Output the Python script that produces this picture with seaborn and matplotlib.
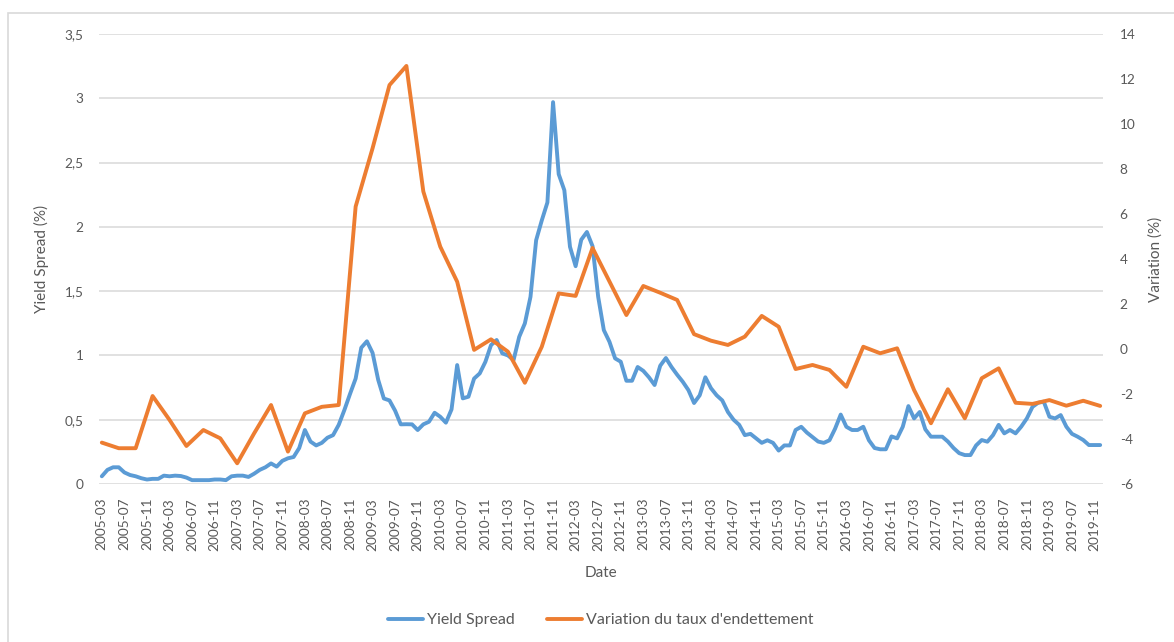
import numpy as np
import pandas as pd
import matplotlib
matplotlib.use("Agg")
import matplotlib.pyplot as plt
from matplotlib.patches import Rectangle
from matplotlib.ticker import FuncFormatter, FixedLocator
import seaborn as sns

# Monthly yield spread (%), 2005-03 .. 2019-12
yield_spread = [
    0.06, 0.11, 0.13, 0.13, 0.09, 0.07, 0.06, 0.045, 0.035, 0.04,          # 2005
    0.04, 0.065, 0.06, 0.065, 0.062, 0.05, 0.03, 0.03, 0.03, 0.03,         # 2006
    0.035, 0.035,
    0.03, 0.06, 0.065, 0.065, 0.055, 0.08, 0.11, 0.13, 0.16, 0.135,        # 2007
    0.18, 0.20,
    0.21, 0.28, 0.42, 0.33, 0.30, 0.32, 0.36, 0.38, 0.46, 0.575,           # 2008
    0.70, 0.82,
    1.06, 1.11, 1.02, 0.81, 0.665, 0.65, 0.57, 0.464, 0.465, 0.464,        # 2009
    0.42, 0.464,
    0.484, 0.554, 0.523, 0.477, 0.58, 0.925, 0.666, 0.679, 0.82, 0.86,     # 2010
    0.95, 1.08,
    1.12, 1.016, 1.0, 0.964, 1.145, 1.249, 1.456, 1.896, 2.05, 2.19,       # 2011
    2.97, 2.41,
    2.285, 1.845, 1.694, 1.90, 1.96, 1.85, 1.456, 1.197, 1.106, 0.977,     # 2012
    0.951, 0.803,
    0.803, 0.91, 0.88, 0.83, 0.77, 0.92, 0.98, 0.91, 0.85, 0.795,          # 2013
    0.73, 0.63,
    0.69, 0.83, 0.745, 0.69, 0.65, 0.56, 0.50, 0.46, 0.38, 0.39,           # 2014
    0.355, 0.32,
    0.34, 0.32, 0.26, 0.30, 0.30, 0.42, 0.445, 0.40, 0.365, 0.33,          # 2015
    0.32, 0.34,
    0.43, 0.54, 0.445, 0.42, 0.42, 0.445, 0.34, 0.28, 0.27, 0.27,          # 2016
    0.37, 0.355,
    0.445, 0.606, 0.51, 0.56, 0.425, 0.368, 0.368, 0.368, 0.33, 0.28,      # 2017
    0.24, 0.225,
    0.225, 0.30, 0.342, 0.329, 0.38, 0.46, 0.394, 0.42, 0.394, 0.446,      # 2018
    0.51, 0.60,
    0.632, 0.64, 0.523, 0.51, 0.536, 0.446, 0.39, 0.368, 0.342, 0.303,     # 2019
    0.303, 0.303,
]

# Quarterly change in the debt ratio (%), 2005-Q1 .. 2019-Q4
debt_ratio_change = [
    -4.16, -4.41, -4.41, -2.09,
    -3.15, -4.31, -3.60, -3.97,
    -5.08, -3.75, -2.49, -4.56,
    -2.86, -2.57, -2.49, 6.33,
    8.92, 11.73, 12.58, 7.00,
    4.55, 2.99, -0.04, 0.43,
    -0.12, -1.50, 0.10, 2.47,
    2.36, 4.49, 3.00, 1.51,
    2.80, 2.50, 2.18, 0.66,
    0.37, 0.18, 0.55, 1.47,
    0.99, -0.89, -0.71, -0.93,
    -1.68, 0.10, -0.19, 0.03,
    -1.82, -3.30, -1.79, -3.08,
    -1.30, -0.86, -2.39, -2.44,
    -2.27, -2.52, -2.30, -2.53,
]

months = pd.period_range("2005-03", periods=len(yield_spread), freq="M").strftime("%Y-%m").tolist()
quarter_months = months[::3]

spread_df = pd.DataFrame({"pos": np.arange(len(months)), "date": months, "value": yield_spread})
debt_df = pd.DataFrame({"pos": np.arange(0, len(months), 3), "date": quarter_months,
                        "value": debt_ratio_change})

BLUE = "#5B9BD5"
ORANGE = "#ED7D31"
TEXT = "#595959"
GRID = "#D9D9D9"

sns.set_theme(style="white")
plt.rcParams["font.family"] = ["Lato", "DejaVu Sans"]

fig = plt.figure(figsize=(11.74, 6.42), dpi=100)
ax = fig.add_axes([99 / 1174, 1 - 484 / 642, (1103 - 99) / 1174, (484 - 34) / 642])
ax2 = ax.twinx()

sns.lineplot(data=spread_df, x="pos", y="value", ax=ax, color=BLUE, linewidth=2.8,
             label="Yield Spread", legend=False)
sns.lineplot(data=debt_df, x="pos", y="value", ax=ax2, color=ORANGE, linewidth=2.8,
             label="Variation du taux d'endettement", legend=False)

ax.set_xlim(-0.5, len(months) - 0.5)
ax.set_ylim(0, 3.5)
ax2.set_ylim(-6, 14)

ax.yaxis.set_major_locator(FixedLocator(np.arange(0, 3.51, 0.5)))
ax.yaxis.set_major_formatter(FuncFormatter(lambda v, p: f"{v:g}".replace(".", ",")))
ax2.yaxis.set_major_locator(FixedLocator(np.arange(-6, 14.1, 2)))
ax2.yaxis.set_major_formatter(FuncFormatter(lambda v, p: f"{v:g}"))

tick_pos = np.arange(0, len(months), 4)
ax.set_xticks(tick_pos)
ax.set_xticklabels([months[i] for i in tick_pos], rotation=90)

ax.grid(axis="y", color=GRID, linewidth=1.1)
ax.grid(axis="x", visible=False)
ax2.grid(False)
for a in (ax, ax2):
    for s in a.spines.values():
        s.set_visible(False)
    a.tick_params(length=0, colors=TEXT, labelsize=9.8)
ax.tick_params(axis="y", pad=11)
ax2.tick_params(axis="y", pad=12)
ax.tick_params(axis="x", pad=10)

ax.set_xlabel("Date", color=TEXT, fontsize=11, labelpad=11)
ax.set_ylabel("Yield Spread (%)", color=TEXT, fontsize=11, labelpad=11)
ax2.set_ylabel("Variation (%)", color=TEXT, fontsize=11, labelpad=9)

handles = ax.get_lines()[:1] + ax2.get_lines()[:1]
fig.legend(handles, [h.get_label() for h in handles], loc="center",
           bbox_to_anchor=(601 / 1174, 1 - 620 / 642), ncol=2, frameon=False,
           handlelength=2.2, columnspacing=2.0, handletextpad=0.25,
           prop={"size": 11.5}, labelcolor=TEXT)

# Chart-area border
fig.patches.append(Rectangle((8 / 1174, -0.05), 1.2, 1.05 - 13 / 642,
                             transform=fig.transFigure, fill=False,
                             edgecolor=GRID, linewidth=1.2))

fig.savefig("out.png", dpi=100, facecolor="white")
